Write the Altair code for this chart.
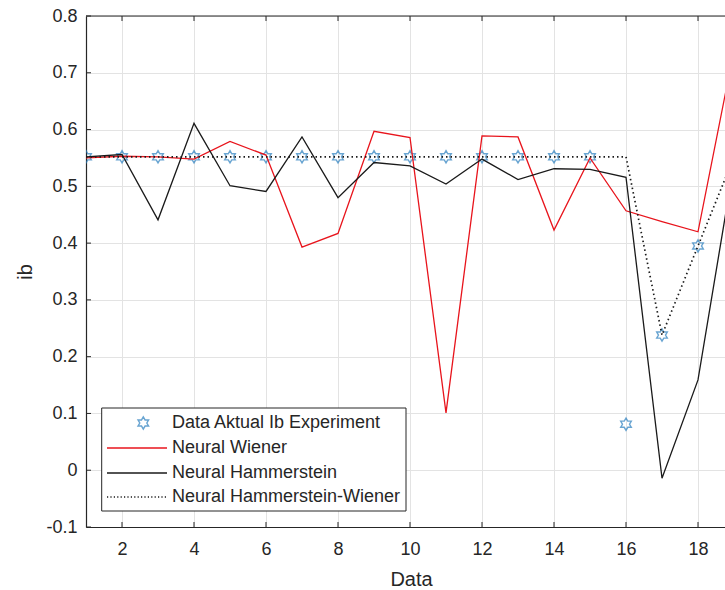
import altair as alt
import pandas as pd

# Sample index on the x axis
data_idx = list(range(1, 20))

# Measured ib values and the three model outputs
aktual = [0.552, 0.552, 0.552, 0.552, 0.552, 0.552, 0.552, 0.552, 0.552, 0.552,
          0.552, 0.552, 0.552, 0.552, 0.552, 0.081, 0.238, 0.395, 0.552]
wiener = [0.550, 0.553, 0.552, 0.548, 0.579, 0.555, 0.393, 0.417, 0.597, 0.586,
          0.101, 0.589, 0.587, 0.423, 0.550, 0.457, 0.438, 0.420, 0.740]
hammerstein = [0.552, 0.556, 0.441, 0.611, 0.501, 0.491, 0.587, 0.480, 0.542, 0.536,
               0.504, 0.548, 0.512, 0.531, 0.530, 0.516, -0.014, 0.159, 0.540]
hamm_wiener = [0.552, 0.552, 0.552, 0.552, 0.552, 0.552, 0.552, 0.552, 0.552, 0.552,
               0.552, 0.552, 0.552, 0.552, 0.552, 0.552, 0.238, 0.395, 0.552]

series_names = ["Data Aktual Ib Experiment", "Neural Wiener",
                "Neural Hammerstein", "Neural Hammerstein-Wiener"]

x_ticks = [2, 4, 6, 8, 10, 12, 14, 16, 18]
y_ticks = [-0.1, 0.0, 0.1, 0.2, 0.3, 0.4, 0.5, 0.6, 0.7, 0.8]

X_DOMAIN = [1, 18.75]
Y_DOMAIN = [-0.1, 0.8]
W, H = 639, 511
AX = "#262626"
FONT = "Liberation Sans"

HEXAGRAM = ("M0,-1L0.289,-0.5L0.866,-0.5L0.577,0L0.866,0.5L0.289,0.5L0,1"
            "L-0.289,0.5L-0.866,0.5L-0.577,0L-0.866,-0.5L-0.289,-0.5Z")

df = pd.DataFrame({
    "idx": data_idx,
    "aktual": aktual,
    "wiener": wiener,
    "hammerstein": hammerstein,
    "hw": hamm_wiener,
})


def xenc(field):
    return alt.X(
        field, title="Data",
        scale=alt.Scale(domain=X_DOMAIN, nice=False, zero=False),
        axis=alt.Axis(values=x_ticks, grid=True, tickSize=0, labelPadding=13,
                      titleX=325, titleY=58, titleBaseline="alphabetic"),
    )


def yenc(field):
    return alt.Y(
        field, title="ib",
        scale=alt.Scale(domain=Y_DOMAIN, nice=False, zero=False),
        axis=alt.Axis(values=y_ticks, grid=True, tickSize=0, labelPadding=9,
                      labelExpr="toString(round(datum.value*10)/10)",
                      titleX=-55, titleY=H / 2, titleBaseline="alphabetic",
                      titleAlign="center", titleAngle=-90),
    )


base = alt.Chart(df)

stars = base.mark_point(shape=HEXAGRAM, filled=False, size=150, strokeWidth=1.4,
                        color="#2a7fbf", clip=True).encode(
    x=xenc("idx:Q"), y=yenc("aktual:Q"))

line_w = base.mark_line(color="#e8141c", strokeWidth=1.3, clip=True).encode(
    x=xenc("idx:Q"), y=yenc("wiener:Q"))
line_h = base.mark_line(color="#1a1a1a", strokeWidth=1.3, clip=True).encode(
    x=xenc("idx:Q"), y=yenc("hammerstein:Q"))
line_hw = base.mark_line(color="#1a1a1a", strokeWidth=1.7, strokeDash=[1.5, 3.0],
                         clip=True).encode(
    x=xenc("idx:Q"), y=yenc("hw:Q"))

# Inward tick marks (bottom, top, left) and the top box edge
xt = pd.DataFrame({"t": x_ticks})
yt = pd.DataFrame({"t": y_ticks})
tick_b = alt.Chart(xt).mark_rule(color=AX, strokeWidth=1).encode(
    x=xenc("t:Q"), y=alt.value(H), y2=alt.value(H - 5))
tick_t = alt.Chart(xt).mark_rule(color=AX, strokeWidth=1).encode(
    x=xenc("t:Q"), y=alt.value(0), y2=alt.value(5))
tick_l = alt.Chart(yt).mark_rule(color=AX, strokeWidth=1).encode(
    y=yenc("t:Q"), x=alt.value(0), x2=alt.value(5))
top_edge = alt.Chart(xt.head(1)).mark_rule(color=AX, strokeWidth=1.2).encode(
    x=alt.value(0), x2=alt.value(W), y=alt.value(0))

# Legend box
one = pd.DataFrame({"k": [0]})
leg_box = alt.Chart(one).mark_rect(fill="white", stroke=AX, strokeWidth=1).encode(
    x=alt.value(15.7), x2=alt.value(320), y=alt.value(392), y2=alt.value(495))

row_y = [407, 432, 457, 481]
leg_layers = [leg_box]
leg_layers.append(alt.Chart(one).mark_point(
    shape=HEXAGRAM, filled=False, size=150, strokeWidth=1.4, color="#2a7fbf").encode(
    x=alt.value(57.3), y=alt.value(row_y[0])))
styles = [
    dict(color="#e8141c", strokeWidth=1.3),
    dict(color="#1a1a1a", strokeWidth=1.3),
    dict(color="#1a1a1a", strokeWidth=1.4, strokeDash=[1.2, 2.2]),
]
for yy, st in zip(row_y[1:], styles):
    leg_layers.append(alt.Chart(one).mark_rule(**st).encode(
        x=alt.value(21), x2=alt.value(81), y=alt.value(yy)))
for yy, name in zip(row_y, series_names):
    leg_layers.append(alt.Chart(pd.DataFrame({"label": [name]})).mark_text(
        align="left", baseline="middle", font=FONT, fontSize=18, color=AX).encode(
        x=alt.value(86), y=alt.value(yy), text="label:N"))

chart = alt.layer(
    stars, line_w, line_h, line_hw, tick_b, tick_t, tick_l, top_edge, *leg_layers
).properties(
    width=W, height=H,
    autosize=alt.AutoSizeParams(type="none"),
    padding={"left": 86, "top": 16, "right": 0, "bottom": 63},
    background="white",
).configure_view(
    stroke=None
).configure_axis(
    domainColor=AX, domainWidth=1.2,
    gridColor="#e3e3e3", gridWidth=1, gridOpacity=1,
    labelFont=FONT, labelFontSize=18, labelColor=AX,
    titleFont=FONT, titleFontSize=20, titleColor=AX, titleFontWeight="normal",
)

chart.save("out.html", embed_options={"renderer": "svg", "actions": False})
